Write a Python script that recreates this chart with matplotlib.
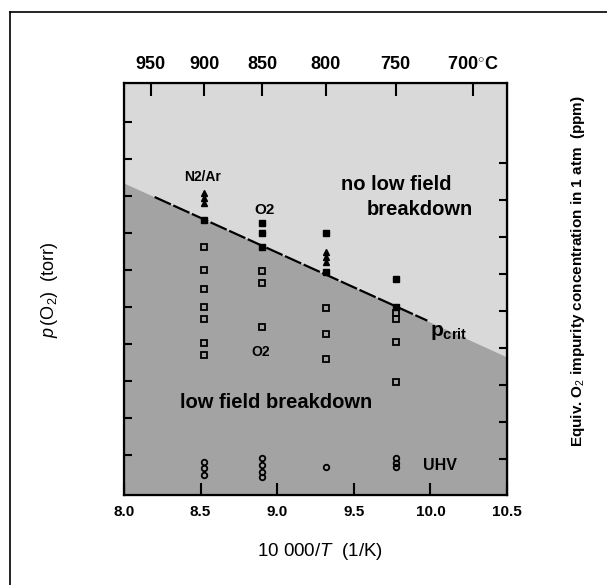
#!/usr/bin/env python

import numpy as np
import matplotlib
matplotlib.use("Agg")
import matplotlib.pyplot as plt
from matplotlib.lines import Line2D

plt.rcParams['font.family'] = ['Liberation Sans', 'DejaVu Sans']
plt.rcParams['mathtext.fontset'] = 'custom'
plt.rcParams['mathtext.rm'] = 'Liberation Sans'
plt.rcParams['mathtext.it'] = 'Liberation Sans:italic'
plt.rcParams['mathtext.bf'] = 'Liberation Sans:bold'

# --- data (y is log10 of p(O2), arbitrary offset, one unit per decade) ---
temps_c = [900, 850, 800, 750]
top_c = [950, 900, 850, 800, 750, 700]
top_labels = ['950', '900', '850', '800', '750', '700$^{\\circ}$C']
bottom_ticks = [8.0, 8.5, 9.0, 9.5, 10.0, 10.5]
bottom_labels = ['8.0', '8.5', '9.0', '9.5', '10.0', '10.5']

# no breakdown (filled squares), per temperature column
filled_sq = [[7.35], [7.27, 7.0, 6.62], [7.0, 5.95], [5.76, 5.0]]
# no breakdown, N2/Ar (filled triangles)
filled_tri = [[8.08, 7.95, 7.82], [], [6.49, 6.35, 6.22], []]
# breakdown (open squares)
open_sq = [[6.62, 6.0, 5.49, 5.0, 4.68, 4.03, 3.70],
           [5.97, 5.65, 4.46],
           [4.97, 4.27, 3.59],
           [4.84, 4.68, 4.05, 2.97]]
# UHV (open circles)
uhv = [[0.81, 0.65, 0.46], [0.92, 0.73, 0.54, 0.41], [0.68], [0.92, 0.78, 0.68]]

boundary_x = [8.0, 10.5]
boundary_y = [8.35, 3.65]
pcrit_x = [8.2, 9.98]
pcrit_y = [7.97, 4.63]

ppm_offset = np.log10(1e6 / 760.0)

fig = plt.figure(figsize=(6.07, 5.85), dpi=100)
ax = fig.add_axes([124 / 607, 1 - 495 / 585, 383 / 607, 412 / 585])

xlim = (8.0, 10.5)
ylim = (-0.08, 11.05)
ax.set_xlim(*xlim)
ax.set_ylim(*ylim)

# shaded regions
ax.fill_between(boundary_x, boundary_y, ylim[1], color='#d9d9d9', lw=0, zorder=0)
ax.fill_between(boundary_x, ylim[0], boundary_y, color='#a3a3a3', lw=0, zorder=0)
ax.plot(pcrit_x, pcrit_y, color='black', lw=1.6, ls=(0, (8, 1.2)), zorder=2)

xs = 10000.0 / (np.array(temps_c) + 273.15)
for i, x in enumerate(xs):
    ax.plot([x] * len(filled_sq[i]), filled_sq[i], 's', ms=4.5, color='black',
            mec='black', zorder=3)
    ax.plot([x] * len(filled_tri[i]), filled_tri[i], '^', ms=4.5, color='black',
            mec='black', zorder=3)
    ax.plot([x] * len(open_sq[i]), open_sq[i], 's', ms=4, mfc='none',
            mec='black', mew=1.3, zorder=3)
    ax.plot([x] * len(uhv[i]), uhv[i], 'o', ms=4, mfc='none',
            mec='black', mew=1.3, zorder=3)

# annotations
ax.text(8.516, 8.51, 'N2/Ar', fontsize=10, fontweight='bold', ha='center', va='center')
ax.text(8.92, 7.62, 'O2', fontsize=11, fontweight='bold', ha='center', va='center')
ax.text(8.89, 3.78, 'O2', fontsize=10, fontweight='bold', ha='center', va='center')
ax.text(9.78, 8.30, 'no low field', fontsize=14.5, fontweight='bold', ha='center', va='center')
ax.text(9.93, 7.62, 'breakdown', fontsize=14.5, fontweight='bold', ha='center', va='center')
ax.text(10.0, 4.32, r'$\mathbf{p}_{\mathbf{crit}}$', fontsize=15, ha='left', va='center')
ax.text(8.99, 2.41, 'low field breakdown', fontsize=14.5, fontweight='bold', ha='center', va='center')
ax.text(10.06, 0.73, 'UHV', fontsize=11.5, fontweight='bold', ha='center', va='center')

# axes styling
for sp in ax.spines.values():
    sp.set_linewidth(1.6)

ax.set_xticks(bottom_ticks)
ax.set_xticklabels(bottom_labels, fontsize=11, fontweight='bold')
ax.tick_params(axis='x', direction='in', length=8.5, width=1.5, pad=7)
ax.set_yticks(range(1, 11))
ax.set_yticklabels([])
ax.tick_params(axis='y', direction='in', length=6, width=1.5)

ax_top = ax.twiny()
ax_top.set_xlim(*xlim)
ax_top.set_xticks(10000.0 / (np.array(top_c) + 273.15))
ax_top.set_xticklabels(top_labels, fontsize=13, fontweight='bold')
ax_top.tick_params(axis='x', direction='in', length=9, width=1.5, pad=7)

ax_r = ax.secondary_yaxis('right', functions=(lambda y: y + ppm_offset,
                                             lambda y: y - ppm_offset))
ax_r.set_yticks(range(4, 13))
ax_r.set_yticklabels([])
ax_r.tick_params(axis='y', direction='in', length=6, width=1.5)

fig.text(320 / 607, 1 - 552 / 585, r'10 000/$\it{T}$  (1/K)', fontsize=13.5,
         ha='center', va='center')
fig.text(50 / 607, 1 - 290 / 585, r'$\it{p}\,$(O$_2$)  (torr)', rotation=90,
         fontsize=13, ha='center', va='center')
fig.text(578 / 607, 1 - 271 / 585,
         r'Equiv. O$_2$ impurity concentration in 1 atm  (ppm)', rotation=90,
         fontsize=11, fontweight='bold', ha='center', va='center')

# outer frame of the scanned figure
fig.add_artist(Line2D([10 / 607, 10 / 607], [0, 1 - 12 / 585], color='black',
                      lw=1.2, transform=fig.transFigure))
fig.add_artist(Line2D([10 / 607, 1], [1 - 12 / 585, 1 - 12 / 585], color='black',
                      lw=1.2, transform=fig.transFigure))

fig.savefig('out.png', dpi=100)
